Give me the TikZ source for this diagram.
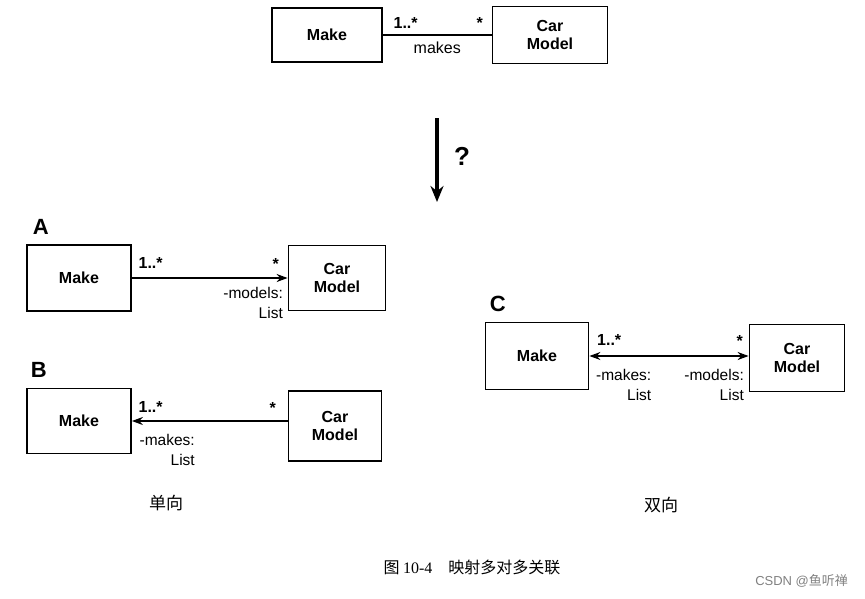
\documentclass[tikz,border=0pt]{standalone}
\usepackage{fontspec}
\setmainfont{Liberation Sans}
\newfontfamily\cjk{Noto Sans CJK SC}
\newfontfamily\numfont{Liberation Serif}
\usetikzlibrary{positioning,arrows.meta}

\begin{document}
\begin{tikzpicture}[x=1pt,y=-1pt,>={Stealth[length=11pt,width=8pt]},line width=1.5pt,
      class node/.style={draw,line width=1.8pt,font=\fontsize{16}{18}\selectfont\bfseries,align=center,
        minimum width=104pt,minimum height=66pt,inner sep=2pt},
      mult/.style={font=\fontsize{16}{17}\selectfont\bfseries,inner sep=1pt},
      role/.style={font=\fontsize{15.5}{20}\selectfont,align=right,inner sep=1pt},
      tag/.style={font=\fontsize{22}{24}\selectfont\bfseries,anchor=south west,inner sep=0pt}]
      \useasboundingbox (0,0) rectangle (865,598);

      % top: the association to be mapped
      \node[class node,minimum width=110pt,minimum height=54pt] (make) at (327,35) {Make};
      \node[class node,minimum width=115pt,minimum height=57pt] (model) at (550,35) {Car\\Model};
      \draw (make) -- node[below=3pt,font=\fontsize{16}{17}\selectfont] (assoc) {makes} (model);
      \node[mult,above right=5pt and 9pt of make.east] {1..*};
      \node[mult,above left=5pt and 7pt of model.west] {*};

      \coordinate (q1) at (437,118);
      \coordinate (q2) at (437,202);
      \draw[->,line width=3.5pt,>={Stealth[length=16pt,width=13pt]}] (q1) -- (q2);
      \node[font=\fontsize{26}{28}\selectfont\bfseries] (ask) at (462,156) {?};

      % A: Make -> Car Model
      \node[tag] (ta) at (32,235) {A};
      \node[class node] (makeA) at (79,278) {Make};
      \node[class node,minimum width=97pt,minimum height=65pt] (modelA) at (337,278) {Car\\Model};
      \draw[->] (makeA) -- (modelA);
      \node[mult,above right=8pt and 5pt of makeA.east] {1..*};
      \node[mult,above left=7pt and 7pt of modelA.west] {*};
      \node[role,below left=8pt and 3pt of modelA.west] {-models:\\List};

      % B: Car Model -> Make
      \node[tag] (tb) at (30,378) {B};
      \node[class node,minimum height=65pt] (makeB) at (79,421) {Make};
      \node[class node,minimum width=93pt,minimum height=70pt] (modelB) at (335,426) {Car\\Model};
      \draw[->] (modelB.west |- makeB.east) -- (makeB.east);
      \node[mult,above right=7pt and 5pt of makeB.east] {1..*};
      \node[mult,above left=6pt and 10pt of modelB.west |- makeB.east] {*};
      \node[role,below right=12pt and 6pt of makeB.east] {-makes:\\List};

      % C: both ways
      \node[tag] (tc) at (489,312) {C};
      \node[class node,minimum width=103pt,minimum height=67pt] (makeC) at (537,356) {Make};
      \node[class node,minimum width=95pt,minimum height=67pt] (modelC) at (797,358) {Car\\Model};
      \draw[<->] (makeC.east) -- (makeC.east -| modelC.west);
      \node[mult,above right=9pt and 6pt of makeC.east] {1..*};
      \node[mult,above left=8pt and 4pt of makeC.east -| modelC.west] {*};
      \node[role,below right=12pt and 5pt of makeC.east] {-makes:\\List};
      \node[role,below left=12pt and 3pt of makeC.east -| modelC.west] {-models:\\List};

      \node[font=\cjk\fontsize{17}{19}\selectfont] (uni) at (166,503) {单向};
      \node[font=\cjk\fontsize{17}{19}\selectfont] (bi) at (661,505) {双向};
      \node[font=\fontsize{16}{18}\selectfont] (caption) at (472,567) {\cjk 图 \numfont 10-4\hspace{1em}\cjk 映射多对多关联};
      \node[font=\fontsize{13}{14}\selectfont,text=gray,anchor=east] (mark) at (852,581) {CSDN @\cjk 鱼听禅};
    \end{tikzpicture}
\end{document}
